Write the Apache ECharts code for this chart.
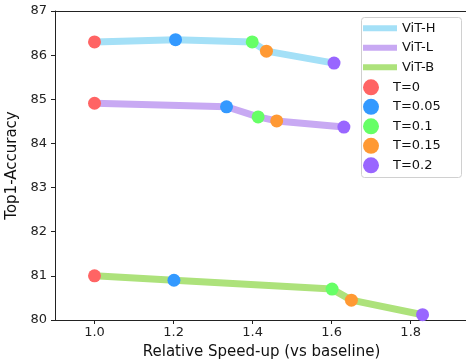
<!DOCTYPE html>
<html><head><meta charset="utf-8">
<script src="https://cdn.jsdelivr.net/npm/echarts@6/dist/echarts.min.js"></script>
<style>html,body{margin:0;padding:0;background:#fff;overflow:hidden}#c{width:466px;height:360px}</style>
</head><body><div id="c"></div>
<script>
// Data
const models = ['ViT-H', 'ViT-L', 'ViT-B'];
const temps = ['T=0', 'T=0.05', 'T=0.1', 'T=0.15', 'T=0.2'];
const speedH = [1.0, 1.205, 1.399, 1.435, 1.606];
const accH   = [86.30, 86.35, 86.30, 86.09, 85.82];
const speedL = [1.0, 1.334, 1.414, 1.461, 1.631];
const accL   = [84.91, 84.83, 84.60, 84.51, 84.37];
const speedB = [1.0, 1.201, 1.601, 1.650, 1.830];
const accB   = [81.00, 80.90, 80.70, 80.45, 80.12];
const xTicks = [1.0, 1.2, 1.4, 1.6, 1.8];

const lineColors = ['#a4e0f7', '#c8a9f3', '#ade27b'];
const dotColors = ['#ff6464', '#3399ff', '#66ff66', '#ff9933', '#9966ff'];

const speeds = [speedH, speedL, speedB];
const accs = [accH, accL, accB];

const font = 'DejaVu Sans';
const series = [];
models.forEach((m, i) => {
  series.push({
    name: m, type: 'line', symbol: 'none', z: 2,
    lineStyle: { width: 7, color: lineColors[i] },
    itemStyle: { color: lineColors[i] },
    data: speeds[i].map((x, k) => [x, accs[i][k]])
  });
});
temps.forEach((t, k) => {
  series.push({
    name: t, type: 'scatter', symbol: 'circle', symbolSize: 13, z: 3,
    itemStyle: { color: dotColors[k], opacity: 1 },
    data: speeds.map((s, i) => [s[k], accs[i][k]])
  });
});

const chart = echarts.init(document.getElementById('c'), null, { renderer: 'canvas' });
chart.setOption({
  animation: false,
  backgroundColor: '#fff',
  textStyle: { fontFamily: font },
  grid: { left: 55, right: -2, top: 11, bottom: 40, containLabel: false, outerBoundsMode: 'none' },
  xAxis: [{
    type: 'value', min: 0.9, max: 1.945,
    name: 'Relative Speed-up (vs baseline)', nameLocation: 'middle', nameGap: 25,
    nameTextStyle: { fontSize: 15, color: '#111', fontFamily: font },
    axisLine: { show: true, lineStyle: { color: '#222', width: 1 } },
    axisTick: { show: true, length: 4, customValues: xTicks, lineStyle: { color: '#222' } },
    axisLabel: { customValues: xTicks, fontSize: 13, color: '#222', margin: 6, fontFamily: font,
      formatter: v => v.toFixed(1) },
    splitLine: { show: false }
  }, {
    type: 'value', position: 'top', min: 0.9, max: 1.945,
    axisLine: { show: true, lineStyle: { color: '#222', width: 1 } },
    axisTick: { show: false }, axisLabel: { show: false }, splitLine: { show: false }
  }],
  yAxis: {
    type: 'value', min: 80, max: 87, interval: 1,
    name: 'Top1-Accuracy', nameLocation: 'middle', nameGap: 33,
    nameTextStyle: { fontSize: 15, color: '#111', fontFamily: font },
    axisLine: { show: true, lineStyle: { color: '#222', width: 1 } },
    axisTick: { show: true, length: 4, lineStyle: { color: '#222' } },
    axisLabel: { fontSize: 13, color: '#222', margin: 8, fontFamily: font },
    splitLine: { show: false }
  },
  graphic: [{
    type: 'rect', z: 0, zlevel: 0,
    shape: { x: 361.5, y: 17.5, width: 100, height: 160, r: 3 },
    style: { fill: 'rgba(255,255,255,0.85)', stroke: '#d0d0d0', lineWidth: 1 }
  }],
  legend: [{
    data: models.map(m => ({ name: m, icon: 'rect' })),
    orient: 'vertical', left: 363, top: 20.3, padding: 0,
    itemWidth: 34, itemHeight: 6, itemGap: 3.5,
    textStyle: { fontSize: 13, color: '#111', lineHeight: 16, height: 16, fontFamily: font },
    selectedMode: false, z: 10
  }, {
    data: temps.map(t => ({ name: t, icon: 'circle' })),
    orient: 'vertical', left: 363, top: 79.3, padding: 0,
    itemWidth: 34, itemHeight: 16, itemGap: 3.5,
    textStyle: { fontSize: 13, color: '#111', lineHeight: 16, height: 16, fontFamily: font },
    selectedMode: false, z: 10
  }],
  series: series
});
</script></body></html>
